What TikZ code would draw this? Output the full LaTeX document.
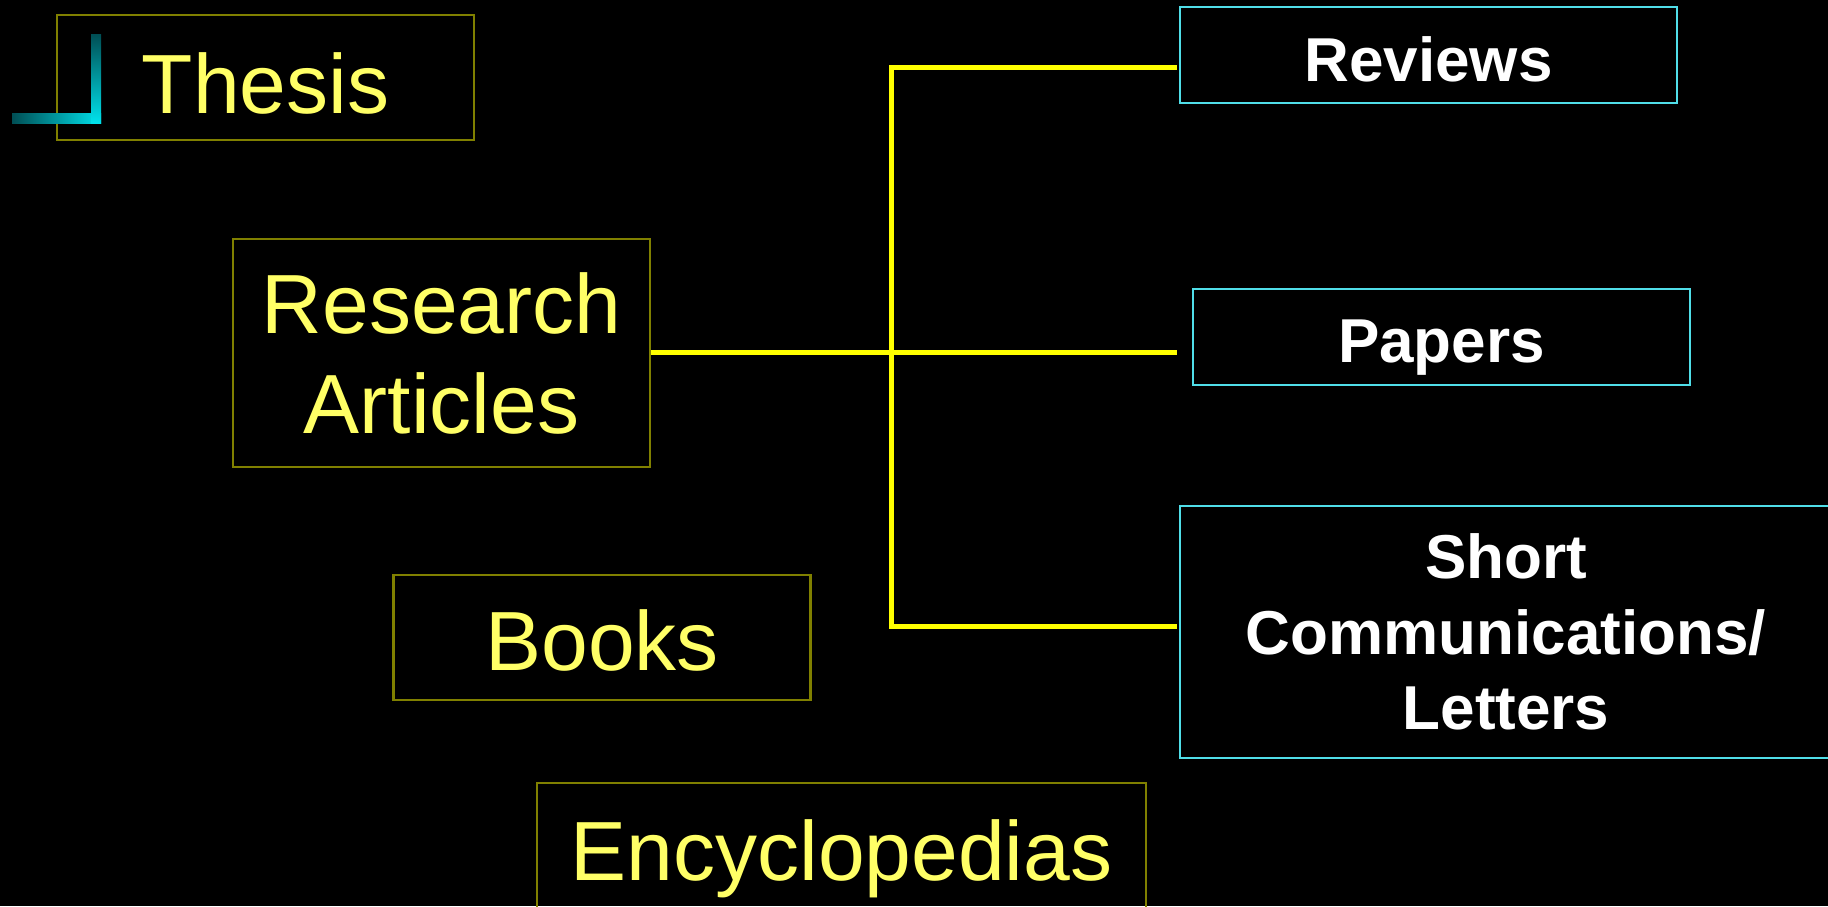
\documentclass[tikz,border=0pt]{standalone}
\usepackage{fontspec}
\setmainfont{Liberation Sans}
\definecolor{boxolive}{RGB}{128,128,0}
\definecolor{boxcyan}{RGB}{80,222,232}
\definecolor{ytext}{RGB}{255,255,102}
\definecolor{yline}{RGB}{255,255,0}
\definecolor{ldark}{RGB}{0,78,84}
\definecolor{lbright}{RGB}{0,226,236}
\begin{document}
\begin{tikzpicture}[x=1pt,y=-1pt,
  ybox/.style={draw=boxolive, line width=2.5pt, inner sep=0pt, text=ytext,
    font=\fontsize{84}{100}\selectfont, minimum width=417pt, minimum height=125pt},
  cbox/.style={draw=boxcyan, line width=2.5pt, inner sep=0pt, text=white,
    font=\bfseries\fontsize{62}{75.5}\selectfont, minimum width=497pt, minimum height=96pt},
  conn/.style={draw=yline, line width=5pt}]
\fill[black] (0,0) rectangle (1828,906);
\useasboundingbox (0,0) rectangle (1828,906);

\node[ybox, text height=71pt, text depth=0pt] (thesis) at (265.5,77.5) {Thesis};
\node[ybox, minimum height=228pt, align=center] (research) at (441.5,353) {Research\\Articles};
\node[ybox, text height=65pt, text depth=0pt] (books) at (602,637.5) {Books};
\node[ybox, minimum width=609pt, text height=69pt, text depth=0pt] (ency) at (841.5,845.5) {Encyclopedias};

\node[cbox, text height=52pt, text depth=0pt] (reviews) at (1428.5,55) {Reviews};
\node[cbox, text height=50pt, text depth=0pt] (papers) at (1441.5,337) {Papers};
\node[cbox, minimum width=652pt, minimum height=252pt, align=center] (short) at (1506,632) {Short\\Communications/\\Letters};

\coordinate (jtop) at (891,67);
\coordinate (jbot) at (891,626);
\coordinate (erev) at (1177,67);
\coordinate (epap) at (1177,352);
\coordinate (eshort) at (1177,626);
\draw[conn] (erev) -- (jtop) -- (jbot) -- (eshort);
\draw[conn] (research.east |- epap) -- (epap);

\shade[left color=ldark, right color=lbright] (12,113) rectangle (101,123);
\shade[top color=ldark, bottom color=lbright] (91,34) rectangle (101,123);
\end{tikzpicture}
\end{document}
